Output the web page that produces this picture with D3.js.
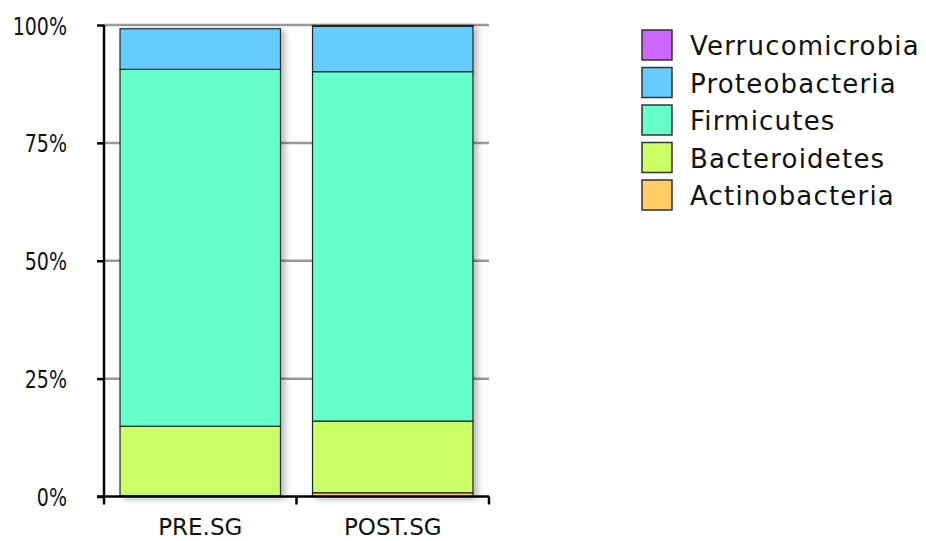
<!DOCTYPE html>
<html>
<head>
<meta charset="utf-8">
<script src="https://cdn.jsdelivr.net/npm/d3@7"></script>
<style>
  html, body { margin: 0; padding: 0; background: #fff; }
  svg { display: block; }
</style>
</head>
<body>
<svg id="chart" width="926" height="541"></svg>
<script>
// ---- data ----
const categories = ["PRE.SG", "POST.SG"];
const phyla = ["Actinobacteria", "Bacteroidetes", "Firmicutes", "Proteobacteria", "Verrucomicrobia"];
const actinobacteria  = [0.002, 0.008];
const bacteroidetes   = [0.147, 0.152];
const firmicutes      = [0.757, 0.741];
const proteobacteria  = [0.086, 0.096];
const verrucomicrobia = [0.000, 0.002];
const yTicks = [0, 0.25, 0.5, 0.75, 1.0];
const yTickLabels = ["0%", "25%", "50%", "75%", "100%"];
const colors = ["#FFCC66", "#CCFF66", "#66FFCC", "#66CCFF", "#CC66FF"];

const seriesValues = [actinobacteria, bacteroidetes, firmicutes, proteobacteria, verrucomicrobia];
const table = categories.map((c, i) => {
  const row = { category: c };
  phyla.forEach((p, j) => row[p] = seriesValues[j][i]);
  return row;
});

const svg = d3.select("#chart");
const font = "'DejaVu Sans', sans-serif";

const x = d3.scaleBand().domain(categories).range([104, 489])
  .paddingInner(1/6).paddingOuter(1/12);
const y = d3.scaleLinear().domain([0, 1]).range([496.5, 25]);
const color = d3.scaleOrdinal().domain(phyla).range(colors);

const defs = svg.append("defs");
const f = defs.append("filter").attr("id", "shadow")
  .attr("x", "-10%").attr("y", "-10%").attr("width", "130%").attr("height", "130%");
f.append("feDropShadow").attr("dx", 4).attr("dy", 2).attr("stdDeviation", 3)
  .attr("flood-color", "#000").attr("flood-opacity", 0.28);

// gridlines
svg.append("g").selectAll("line").data(yTicks.filter(d => d > 0)).join("line")
  .attr("x1", x.range()[0]).attr("x2", x.range()[1])
  .attr("y1", d => y(d)).attr("y2", d => y(d))
  .attr("stroke", "#9a9a9a").attr("stroke-width", 2.5);

// bars
const stack = d3.stack().keys(phyla)(table);
const barG = svg.append("g");
categories.forEach((c, i) => {
  const g = barG.append("g").attr("filter", "url(#shadow)");
  stack.forEach(s => {
    const d = s[i];
    if (d[1] - d[0] <= 0) return;
    g.append("rect")
      .attr("x", x(c)).attr("width", x.bandwidth())
      .attr("y", y(d[1])).attr("height", y(d[0]) - y(d[1]))
      .attr("fill", color(s.key))
      .attr("stroke", "#1e2a2a").attr("stroke-width", 1.2);
  });
});

// y axis
const yAxis = d3.axisLeft(y).tickValues(yTicks)
  .tickFormat((d, i) => yTickLabels[i]).tickSize(7).tickPadding(30);
const yg = svg.append("g").attr("transform", `translate(${x.range()[0]},0)`).call(yAxis);
yg.select(".domain").remove();
yg.selectAll(".tick line").attr("stroke", "#000").attr("stroke-width", 2.5);
yg.selectAll(".tick text").attr("font-family", font)
  .attr("font-size", 25).attr("fill", "#111").attr("dy", "0.36em")
  .each(function() {
    const w = this.getComputedTextLength();
    d3.select(this).attr("textLength", w * 0.76).attr("lengthAdjust", "spacingAndGlyphs");
  });
svg.append("line").attr("x1", x.range()[0]).attr("x2", x.range()[0])
  .attr("y1", y(1)).attr("y2", y(0)).attr("stroke", "#000").attr("stroke-width", 2.5);

// x axis
const bounds = categories.map(c => x(c) - (x.step() - x.bandwidth()) / 2).concat([x.range()[1]]);
svg.append("line").attr("x1", x.range()[0] - 7).attr("x2", x.range()[1])
  .attr("y1", y(0)).attr("y2", y(0)).attr("stroke", "#000").attr("stroke-width", 2.5);
svg.append("g").selectAll("line").data(bounds).join("line")
  .attr("x1", d => d).attr("x2", d => d)
  .attr("y1", y(0)).attr("y2", y(0) + 8)
  .attr("stroke", "#000").attr("stroke-width", 2.5);
svg.append("g").selectAll("text").data(categories).join("text")
  .attr("x", d => x(d) + x.bandwidth() / 2).attr("y", 535)
  .attr("text-anchor", "middle").attr("font-family", font)
  .attr("font-size", 23).attr("fill", "#111").text(d => d);

// legend
const legendOrder = phyla.slice().reverse();
const lg = svg.append("g").selectAll("g").data(legendOrder).join("g")
  .attr("transform", (d, i) => `translate(642, ${30 + i * 37.5})`);
lg.append("rect").attr("width", 30).attr("height", 30)
  .attr("fill", d => color(d)).attr("stroke", "#333").attr("stroke-width", 1.5);
lg.append("text").attr("x", 48).attr("y", 25)
  .attr("font-family", font).attr("font-size", 26).attr("letter-spacing", 1.2)
  .attr("fill", "#111").text(d => d);
</script>
</body>
</html>
